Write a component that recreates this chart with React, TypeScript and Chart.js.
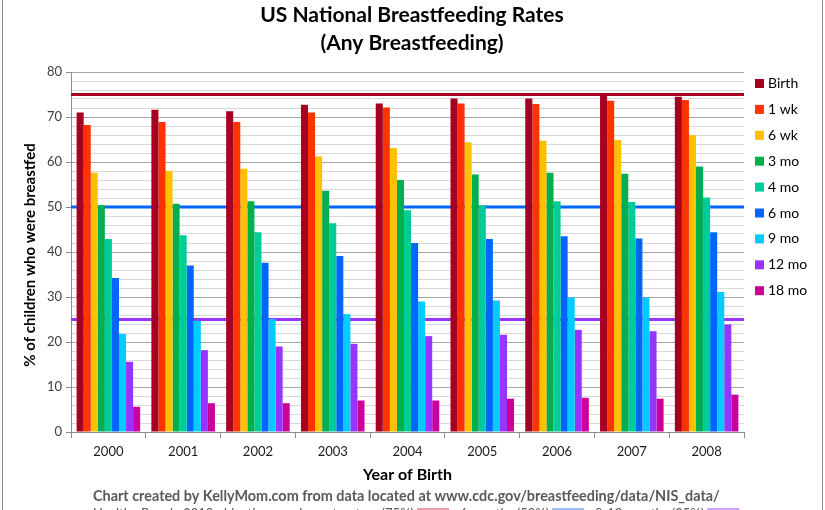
import { useEffect, useRef } from "react";
import { Chart, registerables } from "chart.js";

Chart.register(...registerables);

const years = ["2000", "2001", "2002", "2003", "2004", "2005", "2006", "2007", "2008"];
const seriesLabels = ["Birth", "1 wk", "6 wk", "3 mo", "4 mo", "6 mo", "9 mo", "12 mo", "18 mo"];
const seriesColors = ["#A50021", "#FF3300", "#FFC000", "#00B050", "#00CC99", "#0066FF", "#00CCFF", "#9933FF", "#CC0099"];

const birth = [71.0, 71.6, 71.3, 72.7, 73.0, 74.1, 74.1, 75.0, 74.5];
const week1 = [68.2, 68.9, 68.9, 71.0, 72.1, 73.0, 72.9, 73.6, 73.8];
const week6 = [57.6, 58.0, 58.5, 61.2, 63.1, 64.4, 64.7, 64.9, 66.0];
const month3 = [50.4, 50.7, 51.3, 53.6, 56.0, 57.2, 57.6, 57.4, 59.0];
const month4 = [42.9, 43.7, 44.4, 46.4, 49.3, 50.4, 51.3, 51.1, 52.1];
const month6 = [34.2, 37.0, 37.6, 39.1, 42.0, 42.9, 43.5, 43.0, 44.4];
const month9 = [21.8, 24.7, 25.1, 26.2, 29.0, 29.2, 29.9, 29.9, 31.1];
const month12 = [15.6, 18.2, 19.0, 19.6, 21.3, 21.6, 22.7, 22.4, 23.9];
const month18 = [5.6, 6.4, 6.4, 7.0, 7.0, 7.4, 7.6, 7.4, 8.3];

const seriesValues = [birth, week1, week6, month3, month4, month6, month9, month12, month18];

const targetValues = [75, 50, 25];
const targetColors = ["#A50021", "#0066FF", "#9933FF"];
const targetNoteColors = ["#E6A0B0", "#99C2FF", "#CCA3FF"];

const yMin = 0;
const yMax = 80;
const yMajorStep = 10;
const yMinorStep = 2;

const titleLines = ["US National Breastfeeding Rates", "(Any Breastfeeding)"];
const yTitle = "% of children who were breastfed";
const xTitle = "Year of Birth";
const footLine1 = "Chart created by KellyMom.com from data located at www.cdc.gov/breastfeeding/data/NIS_data/";
const footParts = ["Healthy People 2010 objectives: early postpartum (75%)", "; 6 months (50%)", "; 8-12 months (25%)"];

const FONT = "Lato, 'Open Sans', sans-serif";

export default function App() {
  const canvasRef = useRef<HTMLCanvasElement | null>(null);

  useEffect(() => {
    document.body.style.margin = "0";
    const canvas = canvasRef.current;
    if (!canvas) return;

    const decorPlugin = {
      id: "decor",
      beforeDatasetsDraw(chart: any) {
        const { ctx, chartArea } = chart;
        const y = chart.scales.y;
        ctx.save();
        targetValues.forEach((v, i) => {
          const py = y.getPixelForValue(v);
          ctx.strokeStyle = targetColors[i];
          ctx.lineWidth = 3;
          ctx.beginPath();
          ctx.moveTo(chartArea.left, py);
          ctx.lineTo(chartArea.right, py);
          ctx.stroke();
        });
        ctx.restore();
      },
      afterDraw(chart: any) {
        const { ctx, chartArea } = chart;
        ctx.save();
        // outer border
        ctx.strokeStyle = "#8c8c8c";
        ctx.lineWidth = 1;
        ctx.beginPath();
        ctx.moveTo(2.5, 0);
        ctx.lineTo(2.5, 510);
        ctx.moveTo(822.5, 0);
        ctx.lineTo(822.5, 510);
        ctx.stroke();

        // title
        ctx.fillStyle = "#000";
        ctx.textAlign = "center";
        ctx.textBaseline = "middle";
        ctx.font = `bold 21px ${FONT}`;
        ctx.fillText(titleLines[0], 412, 15);
        ctx.fillText(titleLines[1], 412, 43);

        // y title
        ctx.save();
        ctx.translate(30, 255);
        ctx.rotate(-Math.PI / 2);
        ctx.font = `bold 15px ${FONT}`;
        ctx.fillText(yTitle, 0, 0);
        ctx.restore();

        // x title
        ctx.font = `bold 16px ${FONT}`;
        ctx.fillText(xTitle, (chartArea.left + chartArea.right) / 2, 475);

        // legend
        ctx.textAlign = "left";
        ctx.font = `14px ${FONT}`;
        chart.data.datasets.forEach((ds: any, i: number) => {
          const cy = 83.5 + i * 25.9;
          ctx.fillStyle = ds.backgroundColor;
          ctx.fillRect(755, cy - 4.5, 9, 9);
          ctx.fillStyle = "#000";
          ctx.fillText(ds.label, 768, cy);
        });

        // footnotes
        ctx.fillStyle = "#595959";
        ctx.font = `bold 14.4px ${FONT}`;
        ctx.fillText(footLine1, 93, 496);
        ctx.font = `13px ${FONT}`;
        let x = 93;
        footParts.forEach((p, i) => {
          ctx.fillStyle = "#595959";
          ctx.fillText(p, x, 514);
          x += ctx.measureText(p).width + 3;
          ctx.strokeStyle = targetNoteColors[i];
          ctx.lineWidth = 2;
          ctx.beginPath();
          ctx.moveTo(x, 509);
          ctx.lineTo(x + 32, 509);
          ctx.stroke();
          x += 36;
        });
        ctx.restore();
      },
    };

    const chart = new Chart(canvas, {
      type: "bar",
      data: {
        labels: years,
        datasets: seriesLabels.map((label, i) => ({
          label,
          data: seriesValues[i],
          backgroundColor: seriesColors[i],
          borderWidth: 0,
          categoryPercentage: 0.85,
          barPercentage: 1.0,
        })),
      },
      options: {
        responsive: false,
        animation: false,
        events: [],
        layout: { padding: { top: 72, right: 81, left: 0, bottom: 0 } },
        plugins: {
          legend: { display: false },
          title: { display: false },
          tooltip: { enabled: false },
        },
        scales: {
          x: {
            afterFit: (s: any) => {
              s.height = 78;
            },
            grid: {
              display: true,
              drawOnChartArea: false,
              tickLength: 6,
              color: "#8c8c8c",
              offset: true,
            },
            border: { display: true, color: "#8c8c8c" },
            ticks: {
              color: "#1a1a1a",
              font: { family: FONT, size: 13 },
              padding: 6,
            },
          },
          y: {
            min: yMin,
            max: yMax,
            afterFit: (s: any) => {
              s.width = 71;
            },
            border: { display: true, color: "#8c8c8c" },
            grid: {
              tickLength: 5,
              lineWidth: 1,
              color: (c: any) => (c.tick && c.tick.value % yMajorStep === 0 ? "#a6a6a6" : "#d9d9d9"),
              tickColor: (c: any) => (c.tick && c.tick.value % yMajorStep === 0 ? "#8c8c8c" : "rgba(0,0,0,0)"),
            },
            ticks: {
              stepSize: yMinorStep,
              autoSkip: false,
              color: "#404040",
              font: { family: FONT, size: 13 },
              padding: 4,
              callback: (v: any) => (Number(v) % yMajorStep === 0 ? String(v) : ""),
            },
          },
        },
      },
      plugins: [decorPlugin],
    });

    return () => chart.destroy();
  }, []);

  return <canvas ref={canvasRef} width={825} height={510} style={{ display: "block" }} />;
}
